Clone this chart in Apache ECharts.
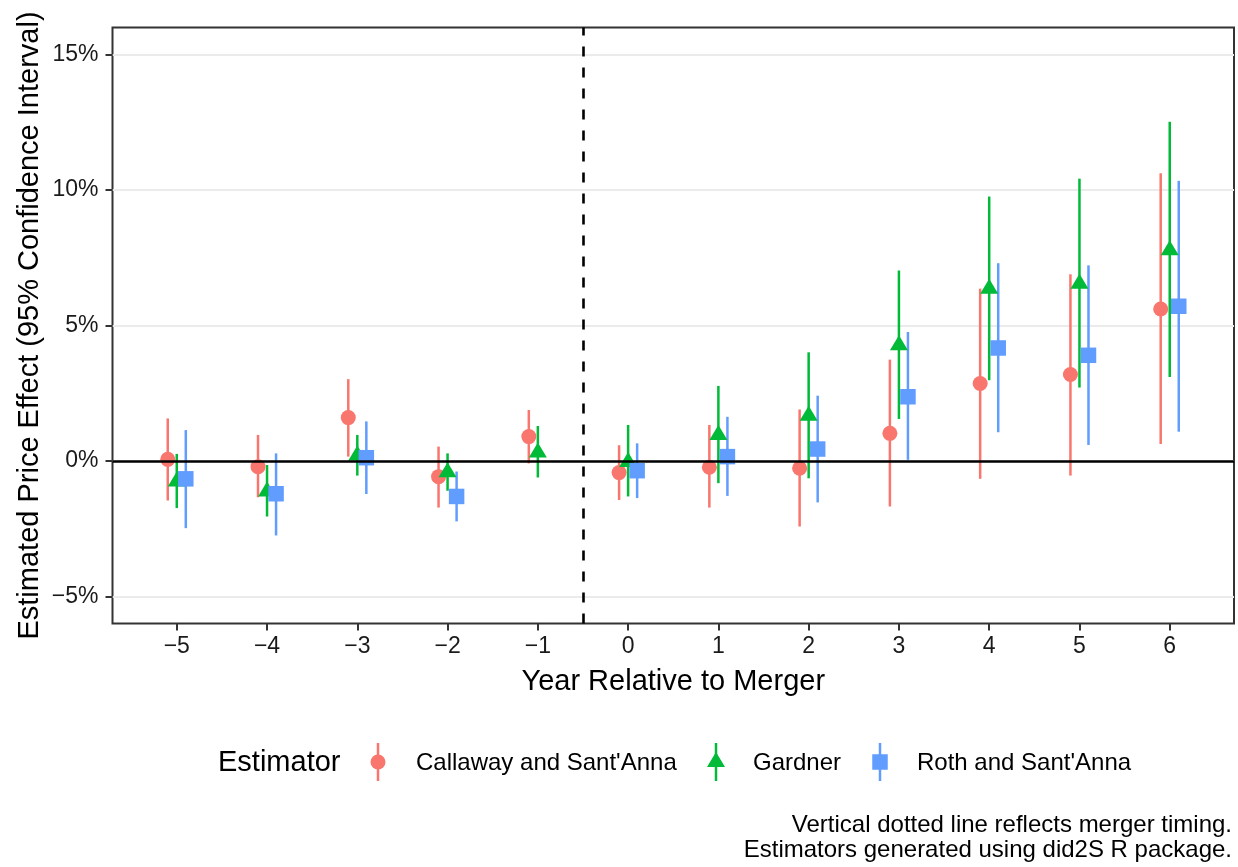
<!DOCTYPE html>
<html>
<head>
<meta charset="utf-8">
<title>Estimated Price Effect by Year Relative to Merger</title>
<script src="https://cdn.jsdelivr.net/npm/echarts@6/dist/echarts.min.js"></script>
<style>
  html, body { margin: 0; padding: 0; background: #fff; }
  #chart { width: 1238px; height: 867px; }
</style>
</head>
<body>
<div id="chart"></div>
<script>
// Event-study estimates (percent), one entry per year relative to the merger
const years = [-5, -4, -3, -2, -1, 0, 1, 2, 3, 4, 5, 6];

const callawayEst = [0.06, -0.21, 1.60, -0.58, 0.90, -0.43, -0.23, -0.27, 1.02, 2.86, 3.19, 5.61];
const callawayLo  = [-1.46, -1.34, 0.16, -1.72, -0.09, -1.44, -1.72, -2.42, -1.68, -0.66, -0.54, 0.63];
const callawayHi  = [1.57, 0.96, 3.02, 0.53, 1.88, 0.58, 1.33, 1.90, 3.74, 6.36, 6.89, 10.62];

const gardnerEst = [-0.76, -1.13, 0.20, -0.42, 0.31, -0.04, 0.96, 1.67, 4.27, 6.36, 6.54, 7.78];
const gardnerLo  = [-1.74, -2.05, -0.54, -1.10, -0.61, -1.31, -0.82, -0.64, 1.55, 2.98, 2.71, 3.10];
const gardnerHi  = [0.26, -0.15, 0.96, 0.28, 1.29, 1.33, 2.77, 4.01, 7.03, 9.76, 10.42, 12.52];

// Roth and Sant'Anna has no estimate for year -1 (reference period)
const rothEst = [-0.66, -1.21, 0.12, -1.31, null, -0.36, 0.16, 0.44, 2.37, 4.17, 3.90, 5.71];
const rothLo  = [-2.48, -2.75, -1.22, -2.23, null, -1.37, -1.29, -1.53, 0.04, 1.06, 0.59, 1.08];
const rothHi  = [1.14, 0.28, 1.46, -0.39, null, 0.65, 1.63, 2.41, 4.76, 7.30, 7.22, 10.34];

const xTicks = [-5, -4, -3, -2, -1, 0, 1, 2, 3, 4, 5, 6];
const yTicks = [-5, 0, 5, 10, 15];

const estimatorNames = ["Callaway and Sant'Anna", 'Gardner', "Roth and Sant'Anna"];
const mergerYear = -0.5;

// ---- layout / style ----
const FONT = '"Liberation Sans", Arial, Helvetica, sans-serif';
const COLORS = ['#F8766D', '#00BA38', '#619CFF'];
const DODGE = [-0.1, 0, 0.1];
const BAR_WIDTH = 2.5;

const estimators = [
  { name: estimatorNames[0], est: callawayEst, lo: callawayLo, hi: callawayHi, symbol: 'circle', size: 15, offset: [0, 0] },
  { name: estimatorNames[1], est: gardnerEst, lo: gardnerLo, hi: gardnerHi, symbol: 'triangle', size: [18, 15], offset: [0, -2.5] },
  { name: estimatorNames[2], est: rothEst, lo: rothLo, hi: rothHi, symbol: 'rect', size: 15.5, offset: [0, 0] }
];

const minus = v => (v < 0 ? '\u2212' + Math.abs(v) : String(v));

const series = [];
// Confidence-interval segments first, so every point sits above every segment
estimators.forEach((e, k) => {
  const data = [];
  years.forEach((yr, i) => {
    if (e.lo[i] != null && e.hi[i] != null) data.push([yr + DODGE[k], e.lo[i], e.hi[i]]);
  });
  series.push({
    type: 'custom',
    name: e.name + ' CI',
    data: data,
    encode: { x: 0, y: [1, 2] },
    z: 3,
    silent: true,
    renderItem: (params, api) => {
      const a = api.coord([api.value(0), api.value(1)]);
      const b = api.coord([api.value(0), api.value(2)]);
      return {
        type: 'line',
        shape: { x1: a[0], y1: a[1], x2: b[0], y2: b[1] },
        style: { stroke: COLORS[k], lineWidth: BAR_WIDTH }
      };
    }
  });
});
estimators.forEach((e, k) => {
  const data = [];
  years.forEach((yr, i) => {
    if (e.est[i] != null) data.push([yr + DODGE[k], e.est[i]]);
  });
  series.push({
    type: 'scatter',
    name: e.name,
    data: data,
    symbol: e.symbol,
    symbolSize: e.size,
    symbolOffset: e.offset,
    itemStyle: { color: COLORS[k], opacity: 1 },
    z: 4,
    silent: true
  });
});
// Zero reference line and the merger-timing line
series.push({
  type: 'line',
  data: [],
  z: 6,
  silent: true,
  markLine: {
    silent: true,
    symbol: 'none',
    label: { show: false },
    animation: false,
    data: [
      { yAxis: 0, lineStyle: { color: '#000', width: 2.6, type: 'solid' } },
      { xAxis: mergerYear, lineStyle: { color: '#000', width: 2.6, type: [10, 11] } }
    ]
  }
});

// Legend keys: a point-range glyph per estimator
const legendY = 762;
const keyX = [378, 716, 880];
const labelX = [416, 753, 917];
const legendGraphics = [
  { type: 'text', x: 218, y: legendY + 1,
    style: { text: 'Estimator', font: '29px ' + FONT, fill: '#000', textVerticalAlign: 'middle' } }
];
estimators.forEach((e, k) => {
  const cx = keyX[k];
  legendGraphics.push({
    type: 'line',
    shape: { x1: cx, y1: legendY - 19, x2: cx, y2: legendY + 19 },
    style: { stroke: COLORS[k], lineWidth: BAR_WIDTH }
  });
  if (e.symbol === 'circle') {
    legendGraphics.push({ type: 'circle', shape: { cx: cx, cy: legendY, r: 7.5 }, style: { fill: COLORS[k] } });
  } else if (e.symbol === 'triangle') {
    legendGraphics.push({ type: 'polygon',
      shape: { points: [[cx, legendY - 10], [cx + 9, legendY + 5], [cx - 9, legendY + 5]] },
      style: { fill: COLORS[k] } });
  } else {
    legendGraphics.push({ type: 'rect', shape: { x: cx - 7.75, y: legendY - 7.75, width: 15.5, height: 15.5 }, style: { fill: COLORS[k] } });
  }
  legendGraphics.push({ type: 'text', x: labelX[k], y: legendY + 1,
    style: { text: e.name, font: '24px ' + FONT, fill: '#000', textVerticalAlign: 'middle' } });
});
// Caption
legendGraphics.push({ type: 'text', x: 1232, y: 825,
  style: { text: 'Vertical dotted line reflects merger timing.', font: '24px ' + FONT, fill: '#000', textAlign: 'right', textVerticalAlign: 'middle' } });
legendGraphics.push({ type: 'text', x: 1232, y: 850,
  style: { text: 'Estimators generated using did2S R package.', font: '24px ' + FONT, fill: '#000', textAlign: 'right', textVerticalAlign: 'middle' } });

const option = {
  animation: false,
  backgroundColor: '#fff',
  textStyle: { fontFamily: FONT },
  grid: {
    left: 112.5, right: 4, top: 27.5, bottom: 243.5,
    show: true, borderColor: '#333', borderWidth: 2, backgroundColor: '#fff',
    containLabel: false
  },
  xAxis: {
    type: 'value',
    min: -5.712, max: 6.712,
    name: 'Year Relative to Merger',
    nameLocation: 'middle',
    nameGap: 44,
    nameMoveOverlap: false,
    nameTextStyle: { fontSize: 29, color: '#000', fontFamily: FONT },
    axisLine: { show: false, onZero: false },
    axisTick: { show: true, length: 7, customValues: xTicks, lineStyle: { color: '#333', width: 2 } },
    axisLabel: { show: true, customValues: xTicks, margin: 12, fontSize: 23, color: '#1a1a1a', fontFamily: FONT, formatter: v => minus(v) },
    splitLine: { show: false }
  },
  yAxis: {
    type: 'value',
    min: -6, max: 16,
    name: 'Estimated Price Effect (95% Confidence Interval)',
    nameLocation: 'middle',
    nameGap: 68,
    nameMoveOverlap: false,
    nameTextStyle: { fontSize: 29, color: '#000', fontFamily: FONT },
    axisLine: { show: false, onZero: false },
    axisTick: { show: true, length: 7, customValues: yTicks, lineStyle: { color: '#333', width: 2 } },
    axisLabel: { show: true, customValues: yTicks, margin: 14, fontSize: 23, color: '#1a1a1a', fontFamily: FONT, formatter: v => minus(v) + '%' },
    splitLine: { show: true, lineStyle: { color: '#EBEBEB', width: 2 } }
  },
  series: series,
  graphic: legendGraphics
};

const chart = echarts.init(document.getElementById('chart'), null, { renderer: 'canvas' });
chart.setOption(option);
</script>
</body>
</html>
